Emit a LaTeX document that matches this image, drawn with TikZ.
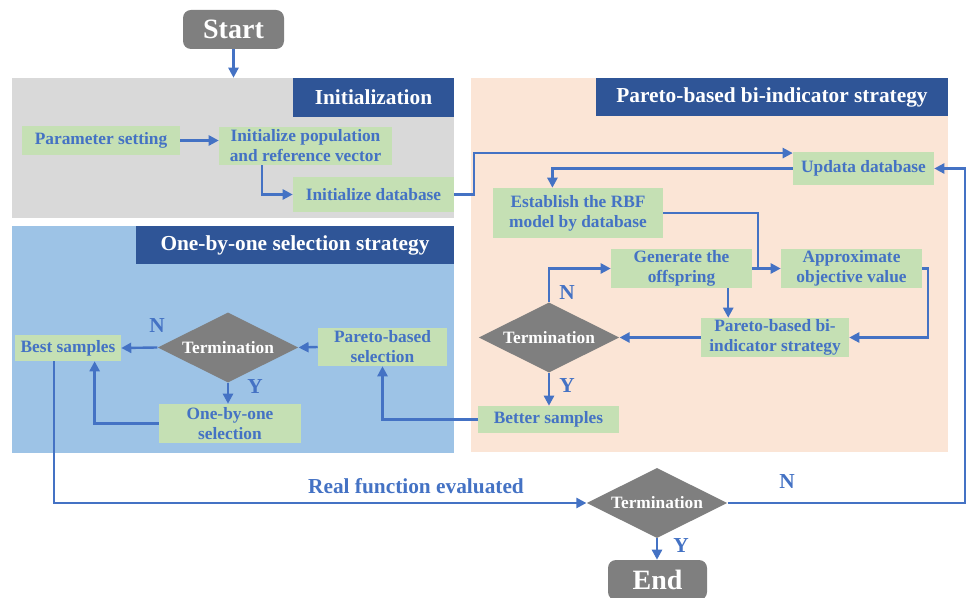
\documentclass[tikz,border=0pt]{standalone}
\usepackage{fontspec}
\setmainfont{Liberation Serif}
\usetikzlibrary{arrows.meta,positioning,calc,shapes.geometric}
\definecolor{cBox}{HTML}{C5E0B4}
\definecolor{cText}{HTML}{4472C4}
\definecolor{cTitle}{HTML}{2F5597}
\definecolor{cGrey}{HTML}{7F7F7F}
\definecolor{cInit}{HTML}{D9D9D9}
\definecolor{cOne}{HTML}{9DC3E6}
\definecolor{cPar}{HTML}{FBE5D6}

\begin{document}
\begin{tikzpicture}[
  x=0.75pt, y=-0.75pt,
  font=\bfseries\fontsize{13}{15}\selectfont,
  >={Triangle[length=7.5pt,width=7.5pt]},
  wh/.style 2 args={minimum width=#1*0.75pt, minimum height=#2*0.75pt},
  panel/.style={inner sep=0pt, draw=none},
  title/.style={fill=cTitle, text=white, inner sep=0pt,
                font=\bfseries\fontsize{16}{19}\selectfont},
  box/.style={fill=cBox, text=cText, inner sep=0pt, align=center},
  term/.style={diamond, aspect=2, fill=cGrey, text=white, inner sep=0pt,
               minimum width=105.5pt, minimum height=52.5pt},
  endbox/.style={rounded corners=6pt, fill=cGrey, text=white, inner sep=0pt,
                 font=\bfseries\fontsize{21}{24}\selectfont},
  flow/.style={->, draw=cText, line width=1.8pt},
  link/.style={draw=cText, line width=1.8pt},
  yn/.style={text=cText, font=\bfseries\fontsize{16}{19}\selectfont},
]
\useasboundingbox (0,0) rectangle (968,598);

% ---------------- panels ----------------
\node (initp) [panel, fill=cInit, wh={442}{140}] at (233,148) {};
\node (onep)  [panel, fill=cOne,  wh={442}{227}] at (233,339.5) {};
\node (parp)  [panel, fill=cPar,  wh={477}{374}] at (709.5,265) {};
\node (initt) [title, wh={161}{39}] at (373.5,97.5) {Initialization};
\node (onet)  [title, wh={318}{38}] at (295,245) {One-by-one selection strategy};
\node (part)  [title, wh={352}{38}] at (772,97) {Pareto-based bi-indicator strategy};

% ---------------- start / end ----------------
\node (start) [endbox, wh={101}{39}] at (233.5,29.5) {Start};
\node (endn)  [endbox, wh={99}{40}] at (657.5,580) {End};

% ---------------- initialization ----------------
\node (param)   [box, wh={158}{29}] at (101,140.5) {Parameter setting};
\node (initpop) [box, wh={173}{38}] at (305.5,146) {Initialize population\\and reference vector};
\node (initdb)  [box, wh={161}{35}] at (373.5,194.5) {Initialize database};

% ---------------- one-by-one selection ----------------
\node (best)   [box, wh={106}{26}] at (68,348) {Best samples};
\node (term1)  [term] at (228,347.5) {Termination};
\node (psel)   [box, wh={129}{38}] at (382.5,347) {Pareto-based\\selection};
\node (oneone) [box, wh={142}{39}] at (230,423.5) {One-by-one\\selection};

% ---------------- pareto-based bi-indicator ----------------
\node (upd)    [box, wh={141}{33}] at (863.5,168.5) {Updata database};
\node (rbf)    [box, wh={170}{50}] at (578,213) {Establish the RBF\\model by database};
\node (gen)    [box, wh={141}{39}] at (681.5,268.5) {Generate the\\offspring};
\node (approx) [box, wh={141}{39}] at (851.5,268.5) {Approximate\\objective value};
\node (pbi)    [box, wh={148}{39}] at (775,337.5) {Pareto-based bi-\\indicator strategy};
\node (term2)  [term] at (549,337.5) {Termination};
\node (better) [box, wh={141}{27}] at (548.5,419.5) {Better samples};

% ---------------- outer loop ----------------
\node (term3) [term] at (657,503) {Termination};

% ---------------- labels ----------------
\node (n1) [yn] at (157,326) {N};
\node (y1) [yn] at (255,387) {Y};
\node (n2) [yn] at (567,293) {N};
\node (y2) [yn] at (567,386) {Y};
\node (n3) [yn] at (787,482) {N};
\node (y3) [yn] at (681,546) {Y};
\node (real) [yn] at (416,486) {Real function evaluated};

% ---------------- connectors ----------------
\draw[flow] (start.south) -- (start.south |- initp.north);
\draw[flow] (param.east) -- (param.east -| initpop.west);
\draw[flow] ($(initpop.south west)!0.25!(initpop.south east)$) |- (initdb.west);
\draw[flow] (initdb.east) -- ++(20,0) |- ([yshift=-1pt]upd.north west);
\draw[flow] (upd.west) -| ($(rbf.north west)!0.35!(rbf.north east)$);
\draw[link] (rbf.east) -| ($(gen.east)!0.2!(approx.west)$);
\draw[flow] (gen.east) -- (approx.west);
\draw[flow] (approx.east) -- ++(6,0) |- (pbi.east);
\coordinate (gdrop) at ($(gen.south west)!0.83!(gen.south east)$);
\draw[flow] (gdrop) -- (gdrop |- pbi.north);
\draw[flow] (pbi.west) -- (term2.east);
\draw[flow] (term2.north) |- (gen.west);
\draw[flow] (term2.south) -- (term2.south |- better.north);
\draw[flow] (better.west) -| (psel.south);
\draw[flow] (psel.west) -- (term1.east);
\draw[flow] (term1.west) -- (best.east);
\draw[flow] (term1.south) -- (term1.south |- oneone.north);
\draw[flow] (oneone.west) -| ($(best.south west)!0.75!(best.south east)$);
\draw[flow] ($(best.south west)!0.37!(best.south east)$) |- (term3.west);
\draw[flow] (term3.east) -| ($(upd.east)+(31,0)$) -- (upd.east);
\draw[flow] (term3.south) -- (term3.south |- endn.north);

\end{tikzpicture}
\end{document}
